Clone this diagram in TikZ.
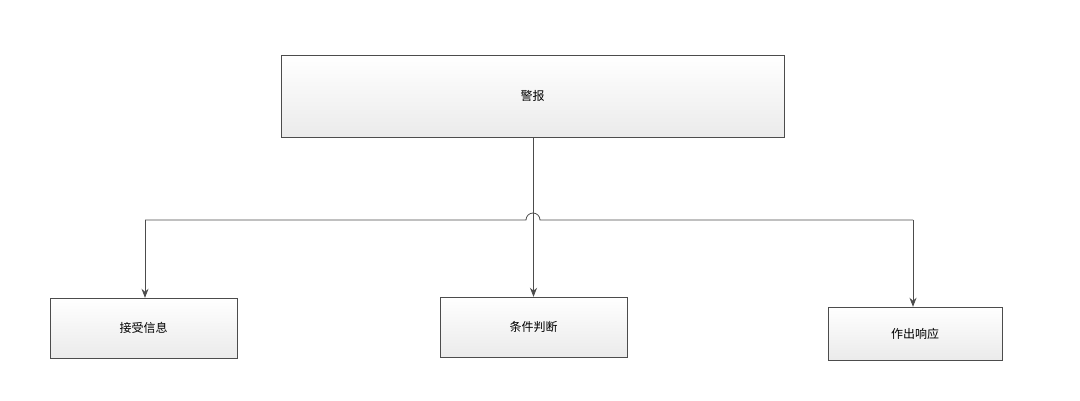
\documentclass[tikz,border=0pt]{standalone}
\usepackage{fontspec}
\newfontfamily\cjk{Noto Sans CJK SC}
\usetikzlibrary{positioning,arrows.meta}
\tikzset{
    box/.style={draw=black!70, top color=white, bottom color=black!8, font=\cjk\large, inner sep=0},
    arr/.style={draw=black!70, thick, -{Stealth[length=9pt,width=7pt]}}
}
\begin{document}
\begin{tikzpicture}[x=1pt,y=1pt]
    \useasboundingbox (0,0) rectangle (1080,400);
    \node[box, minimum width=503pt, minimum height=82pt] (alarm) at (532.5,304) {警报};
    \node[box, minimum width=187pt, minimum height=60pt] (recv) at (143.5,72) {接受信息};
    \node[box, minimum width=187pt, minimum height=60pt] (judge) at (533.5,73) {条件判断};
    \node[box, minimum width=174pt, minimum height=53pt] (resp) at (915,66.5) {作出响应};
    \coordinate (hl) at (145,180);
    \coordinate (hr) at (913,180);
    % branch line with a hop over the trunk
    \draw[black!70, thick] (hl) -- (526,180) arc (180:0:7) -- (hr);
    \draw[arr] (hl) -- (recv.north -| hl);
    \draw[arr] (hr) -- (resp.north -| hr);
    \draw[arr] (alarm.south -| judge.north) -- (judge.north);
\end{tikzpicture}
\end{document}
